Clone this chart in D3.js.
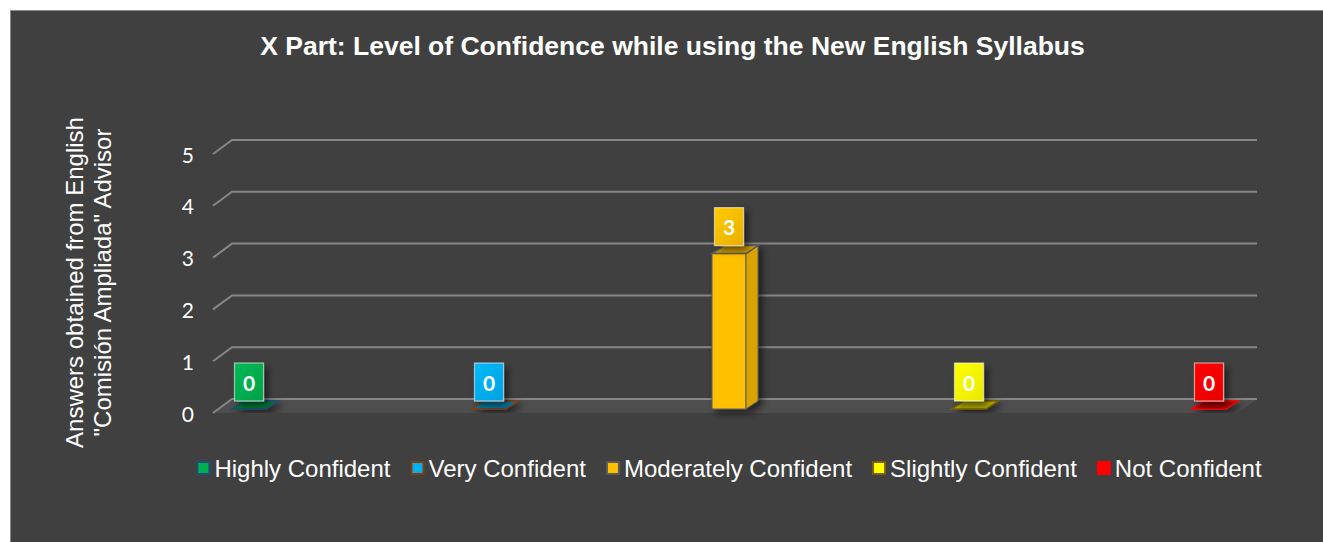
<!DOCTYPE html>
<html>
<head>
<meta charset="utf-8">
<script src="https://cdn.jsdelivr.net/npm/d3@7"></script>
<style>
  html, body { margin: 0; padding: 0; background: #ffffff; }
  svg { display: block; }
</style>
</head>
<body>
<div id="chart"></div>
<script>
const titleText = "X Part: Level of Confidence while using the New English Syllabus";
const yTitleLines = ["Answers obtained from English", "\"Comisión Ampliada\" Advisor"];
const categories = ["Highly Confident", "Very Confident", "Moderately Confident", "Slightly Confident", "Not Confident"];
const values = [0, 0, 3, 0, 0];
const fillColors = ["#00B050", "#00B0F0", "#FFC000", "#FFFF00", "#FF0000"];
const borderColors = ["#1F4E79", "#843C0C", "#5a5a5a", "#7F6000", "#FF0000"];
const yTicks = [0, 1, 2, 3, 4, 5];

const W = 1323, H = 542;
const svg = d3.select("#chart").append("svg").attr("width", W).attr("height", H);

const defs = svg.append("defs");
const sh = defs.append("filter").attr("id", "shadow").attr("x", "-50%").attr("y", "-50%").attr("width", "200%").attr("height", "200%");
sh.append("feDropShadow").attr("dx", 4).attr("dy", 4).attr("stdDeviation", 3.5)
  .attr("flood-color", "#000").attr("flood-opacity", 0.55);

fillColors.forEach((c, i) => {
  const g = defs.append("linearGradient").attr("id", "lg" + i)
    .attr("x1", 0).attr("y1", 0).attr("x2", 1).attr("y2", 1);
  g.append("stop").attr("offset", "0%").attr("stop-color", d3.color(c).brighter(0.15));
  g.append("stop").attr("offset", "100%").attr("stop-color", d3.color(c).darker(0.25));
});

// panel
svg.append("rect").attr("x", 10.5).attr("y", 10.5).attr("width", 1400).attr("height", 600)
  .attr("fill", "#404040").attr("stroke", "#8a8a8a").attr("stroke-width", 1);

// scales
const x = d3.scalePoint().domain(categories).range([213, 1245]).padding(0.15);
const y = d3.scaleLinear().domain([0, 5]).range([399, 140]);

const wallLeft = 232, wallRight = 1257, depthX = 19, depthY = 14;

// floor band
svg.append("polygon")
  .attr("points", [[wallLeft, y(0)], [wallRight, y(0)], [wallRight - depthX, y(0) + depthY], [wallLeft - depthX, y(0) + depthY]].map(p => p.join(",")).join(" "))
  .attr("fill", "#4e4e4e");

// gridlines
const grid = svg.append("g");
yTicks.forEach(t => {
  grid.append("path")
    .attr("d", `M${wallLeft - depthX},${y(t) + depthY}L${wallLeft},${y(t)}L${wallRight},${y(t)}`)
    .attr("fill", "none").attr("stroke", "#868686").attr("stroke-width", 2);
});

// y tick labels
svg.append("g").selectAll("text").data(yTicks).join("text")
  .attr("x", 194).attr("y", d => y(d) + depthY)
  .attr("text-anchor", "end").attr("dominant-baseline", "central")
  .attr("font-family", "Lato, 'Open Sans', sans-serif").attr("font-size", 21)
  .attr("fill", "#ffffff").text(d => d);

// bars
const bw = 34, bdx = 12, bdy = 8, frontOff = 10;
const bars = svg.append("g");
categories.forEach((cat, i) => {
  const cx = x(cat), v = values[i];
  const x0 = cx - bw / 2, x1 = cx + bw / 2;
  const bottom = y(0) + frontOff, top = y(v) + frontOff;
  const g = bars.append("g").attr("filter", "url(#shadow)");
  const col = d3.color(fillColors[i]);
  if (v > 0) {
    g.append("rect").attr("x", x0).attr("y", top).attr("width", bw).attr("height", bottom - top)
      .attr("fill", col).attr("stroke", borderColors[i]).attr("stroke-width", 1);
    g.append("polygon")
      .attr("points", [[x1, top], [x1 + bdx, top - bdy], [x1 + bdx, bottom - bdy], [x1, bottom]].map(p => p.join(",")).join(" "))
      .attr("fill", col.darker(0.45)).attr("stroke", borderColors[i]).attr("stroke-width", 1);
  }
  g.append("polygon")
    .attr("points", [[x0, top], [x1, top], [x1 + bdx, top - bdy], [x0 + bdx, top - bdy]].map(p => p.join(",")).join(" "))
    .attr("fill", v > 0 ? col.darker(0.6) : col.darker(1.1)).attr("stroke", borderColors[i]).attr("stroke-width", 1.5);
});

// data labels
const lw = 29, lh = 38;
const labels = svg.append("g");
categories.forEach((cat, i) => {
  const cx = x(cat), v = values[i];
  const bottomY = y(v) + 2;
  const g = labels.append("g");
  g.append("rect").attr("x", cx - lw / 2).attr("y", bottomY - lh).attr("width", lw).attr("height", lh)
    .attr("fill", `url(#lg${i})`).attr("stroke", "rgba(255,255,255,0.55)").attr("stroke-width", 1.2)
    .attr("filter", "url(#shadow)");
  g.append("text").attr("x", cx).attr("y", bottomY - lh / 2)
    .attr("text-anchor", "middle").attr("dominant-baseline", "central")
    .attr("font-family", "Lato, 'Open Sans', sans-serif").attr("font-weight", "bold").attr("font-size", 21)
    .attr("fill", "#ffffff").text(v);
});

// title
svg.append("text").attr("x", 672.5).attr("y", 55).attr("text-anchor", "middle")
  .attr("font-family", "'Liberation Sans', Arial, sans-serif").attr("font-weight", "bold").attr("font-size", 26.5)
  .attr("fill", "#ffffff").text(titleText);

// y-axis title
const yt = svg.append("text").attr("transform", "translate(0,282.5) rotate(-90)")
  .attr("text-anchor", "middle")
  .attr("font-family", "'Liberation Sans', Arial, sans-serif").attr("font-size", 24).attr("fill", "#ffffff");
yTitleLines.forEach((line, i) => {
  yt.append("tspan").attr("x", 0).attr("y", 83 + i * 27.5).text(line);
});

// legend
const legend = svg.append("g");
const legendY = 468, mk = 12, mgap = 5, itemGap = 21;
const items = [];
categories.forEach((cat, i) => {
  const g = legend.append("g");
  g.append("rect").attr("x", 0).attr("y", legendY - mk / 2).attr("width", mk).attr("height", mk)
    .attr("fill", fillColors[i]).attr("stroke", borderColors[i]).attr("stroke-width", 2);
  const t = g.append("text").attr("x", mk + mgap).attr("y", legendY).attr("dominant-baseline", "central")
    .attr("font-family", "'Liberation Sans', Arial, sans-serif").attr("font-size", 24)
    .attr("fill", "#ffffff").text(cat);
  items.push({ g, w: mk + mgap + t.node().getComputedTextLength() });
});
const total = d3.sum(items, d => d.w) + itemGap * (items.length - 1);
let cur = 729.5 - total / 2;
items.forEach(it => { it.g.attr("transform", `translate(${cur},0)`); cur += it.w + itemGap; });
</script>
</body>
</html>
